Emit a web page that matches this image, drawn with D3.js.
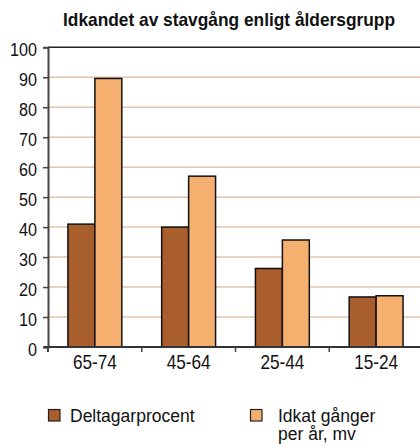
<!DOCTYPE html>
<html><head><meta charset="utf-8">
<script src="https://cdn.jsdelivr.net/npm/d3@7"></script>
<style>body{margin:0;background:#fff}</style>
</head><body>
<script>
const categories = ["65-74", "45-64", "25-44", "15-24"];
const seriesNames = ["Deltagarprocent", "Idkat gånger per år, mv"];
const deltagarprocent = [41, 40, 26.2, 16.7];
const idkatGanger = [89.6, 57, 35.7, 17.1];
const yTicks = [0, 10, 20, 30, 40, 50, 60, 70, 80, 90, 100];
const title = "Idkandet av stavgång enligt åldersgrupp";

const W = 420, H = 446;
const font = "'Liberation Sans', Arial, Helvetica, sans-serif";
const colors = ["#a85f2d", "#f5b06f"];
const svg = d3.select("body").append("svg").attr("width", W).attr("height", H)
  .style("font-family", font);

function squeeze(sel, k) {
  sel.each(function () {
    const t = d3.select(this);
    const x = +t.attr("x") || 0;
    t.attr("x", 0).attr("transform", `translate(${x},0) scale(${k},1)`);
  });
}

const x0 = d3.scaleBand().domain(categories).range([48, 423]).padding(0);
const x1 = d3.scaleBand().domain([0, 1]).range([0, x0.bandwidth()]).paddingInner(0).paddingOuter(0.74);
const y = d3.scaleLinear().domain([0, 100]).range([347, 47.3]);

// gridlines
svg.append("g").selectAll("line").data(yTicks.filter(t => t > 0 && t < 100)).join("line")
  .attr("x1", 48).attr("x2", W).attr("y1", d => y(d)).attr("y2", d => y(d))
  .attr("stroke", "#e2c4ad").attr("stroke-width", 1.5);
// top border at 100
svg.append("line").attr("x1", 48).attr("x2", W).attr("y1", y(100)).attr("y2", y(100))
  .attr("stroke", "#222").attr("stroke-width", 1.6);

// bars
const data = categories.map((c, i) => ({c, v: [deltagarprocent[i], idkatGanger[i]]}));
const g = svg.append("g").selectAll("g").data(data).join("g")
  .attr("transform", d => `translate(${x0(d.c)},0)`);
g.selectAll("rect").data(d => d.v.map((v, k) => ({v, k}))).join("rect")
  .attr("x", d => x1(d.k)).attr("width", x1.bandwidth())
  .attr("y", d => y(d.v)).attr("height", d => y(0) - y(d.v))
  .attr("fill", d => colors[d.k]).attr("stroke", "#111").attr("stroke-width", 1.5);

// y axis
const yAxis = d3.axisLeft(y).tickValues(yTicks).tickSize(5).tickPadding(6);
const ya = svg.append("g").attr("transform", "translate(48,0)").call(yAxis);
ya.select(".domain").attr("stroke", "#444").attr("stroke-width", 2);
ya.selectAll(".tick line").attr("stroke", "#444").attr("stroke-width", 1.5);
ya.selectAll(".tick text").attr("font-size", 19).attr("font-family", font).attr("fill", "#111").attr("dy", "0.44em");
squeeze(ya.selectAll(".tick text"), 0.85);

// x axis
const xa = svg.append("g").attr("transform", `translate(0,${y(0)})`)
  .call(d3.axisBottom(x0).tickSize(0).tickPadding(8));
xa.select(".domain").remove();
xa.append("line").attr("x1", 44).attr("x2", W).attr("stroke", "#333").attr("stroke-width", 2);
xa.selectAll(".tick text").attr("font-size", 20).attr("font-family", font).attr("fill", "#111").attr("dy", "0.7em");
squeeze(xa.selectAll(".tick text"), 0.86);
// band boundary ticks
svg.append("g").selectAll("line").data(categories).join("line")
  .attr("x1", d => x0(d) + x0.bandwidth()).attr("x2", d => x0(d) + x0.bandwidth())
  .attr("y1", y(0)).attr("y2", y(0) + 5).attr("stroke", "#444").attr("stroke-width", 1.5);
svg.append("line").attr("x1", 48).attr("x2", 48).attr("y1", y(0)).attr("y2", y(0) + 5)
  .attr("stroke", "#444").attr("stroke-width", 2);

// title
svg.append("text").attr("x", 229).attr("y", 26).attr("text-anchor", "middle")
  .attr("font-size", 18.6).attr("font-weight", "bold").attr("fill", "#111")
  .attr("textLength", 332).attr("lengthAdjust", "spacingAndGlyphs").text(title);

// legend
const lg = svg.append("g");
lg.append("rect").attr("x", 48.5).attr("y", 409.5).attr("width", 11.5).attr("height", 11.5)
  .attr("fill", colors[0]).attr("stroke", "#222").attr("stroke-width", 1.2);
lg.append("text").attr("x", 70).attr("y", 421.5).attr("font-size", 17.5).attr("fill", "#111").text(seriesNames[0]);
lg.append("rect").attr("x", 250.5).attr("y", 409.5).attr("width", 11.5).attr("height", 11.5)
  .attr("fill", colors[1]).attr("stroke", "#222").attr("stroke-width", 1.2);
lg.append("text").attr("x", 278).attr("y", 421.5).attr("font-size", 17.5).attr("fill", "#111").text("Idkat gånger");
lg.append("text").attr("x", 278).attr("y", 440).attr("font-size", 17.5).attr("fill", "#111").text("per år, mv");
</script>
</body></html>
